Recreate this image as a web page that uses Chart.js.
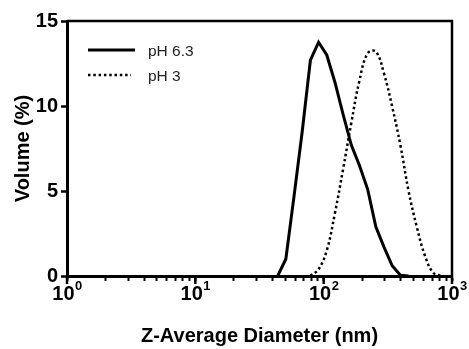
<!DOCTYPE html>
<html><head><meta charset="utf-8">
<script src="https://cdn.jsdelivr.net/npm/chart.js@4.4.1/dist/chart.umd.min.js"></script>
<style>html,body{margin:0;padding:0;background:#fff;}</style>
</head><body>
<canvas id="c" width="469" height="349"></canvas>
<script>
// Size bins (nm)
const diameters = [43.82, 50.75, 58.77, 68.06, 78.82, 91.28, 105.7, 122.4, 141.8, 164.2, 190.1, 220.2, 255.0, 295.3, 342.0, 396.1, 458.7, 531.2, 615.1, 712.4, 825.0];
// Volume (%) per bin
const volumePH63 = [0, 1.0, 4.7, 8.5, 12.7, 13.75, 13.0, 11.4, 9.5, 7.7, 6.5, 5.1, 2.9, 1.7, 0.6, 0.05, 0, null, null, null, null];
const volumePH3 = [null, null, null, null, 0, 0.4, 1.5, 3.7, 6.3, 9.0, 11.5, 13.1, 13.2, 11.9, 9.96, 7.7, 5.0, 2.9, 1.2, 0.2, 0];
const seriesLabels = ['pH 6.3', 'pH 3'];
const xMajorTicks = [1, 10, 100, 1000];
const xTickBase = '10';
const xTickExponents = ['0', '1', '2', '3'];
const yTicks = [0, 5, 10, 15];
const xTitle = 'Z-Average Diameter (nm)';
const yTitle = 'Volume (%)';

const FONT = "'Liberation Sans', Arial, sans-serif";

function toPoints(vals) {
  return diameters.map((d, i) => ({x: d, y: vals[i]}));
}

const decorPlugin = {
  id: 'decor',
  afterDraw(chart) {
    const ctx = chart.ctx;
    const a = chart.chartArea;
    const xs = chart.scales.x;
    ctx.save();
    // top and right frame
    ctx.strokeStyle = '#000';
    ctx.lineWidth = 2.5;
    ctx.beginPath();
    ctx.moveTo(a.left, a.top);
    ctx.lineTo(a.right, a.top);
    ctx.lineTo(a.right, a.bottom);
    ctx.stroke();
    // longer major ticks + superscript labels
    ctx.lineWidth = 2.5;
    xMajorTicks.forEach((v, i) => {
      const x = xs.getPixelForValue(v);
      ctx.beginPath();
      ctx.moveTo(x, a.bottom);
      ctx.lineTo(x, a.bottom + 8);
      ctx.stroke();
      ctx.fillStyle = '#000';
      ctx.textBaseline = 'alphabetic';
      ctx.textAlign = 'left';
      ctx.font = 'bold 20px ' + FONT;
      const w1 = ctx.measureText(xTickBase).width;
      ctx.font = 'bold 13px ' + FONT;
      const w2 = ctx.measureText(xTickExponents[i]).width;
      const start = x - (w1 + w2) / 2;
      ctx.font = 'bold 20px ' + FONT;
      ctx.fillText(xTickBase, start, a.bottom + 24);
      ctx.font = 'bold 13px ' + FONT;
      ctx.fillText(xTickExponents[i], start + w1 + 0.5, a.bottom + 14);
    });
    // legend
    chart.data.datasets.forEach((ds, i) => {
      const y = a.top + 29 + i * 25;
      ctx.strokeStyle = ds.borderColor;
      ctx.lineWidth = ds.borderWidth;
      ctx.setLineDash(ds.borderDash || []);
      ctx.beginPath();
      ctx.moveTo(a.left + 21, y);
      ctx.lineTo(a.left + (i === 0 ? 68 : 64), y);
      ctx.stroke();
      ctx.setLineDash([]);
      ctx.fillStyle = '#222';
      ctx.font = '15.5px ' + FONT;
      ctx.textAlign = 'left';
      ctx.textBaseline = 'alphabetic';
      ctx.fillText(ds.label, a.left + 81, y + 6);
    });
    ctx.restore();
  }
};

new Chart(document.getElementById('c'), {
  type: 'line',
  data: {
    datasets: [
      {label: seriesLabels[0], data: toPoints(volumePH63), borderColor: '#000', borderWidth: 3, pointRadius: 0, tension: 0, fill: false, borderJoinStyle: 'miter'},
      {label: seriesLabels[1], data: toPoints(volumePH3), borderColor: '#000', borderWidth: 2.5, borderDash: [2.5, 2.8], pointRadius: 0, tension: 0.4, fill: false}
    ]
  },
  options: {
    responsive: false,
    animation: false,
    devicePixelRatio: 1,
    layout: {padding: {top: 21, right: 17, left: 0, bottom: 0}},
    plugins: {legend: {display: false}, tooltip: {enabled: false}},
    scales: {
      x: {
        type: 'logarithmic', min: 1, max: 1000, position: 'bottom',
        afterBuildTicks: s => {
          const t = [];
          for (let e = 0; e < 3; e++) for (let m = 1; m < 10; m++) t.push({value: m * Math.pow(10, e), major: m === 1});
          t.push({value: 1000, major: true});
          s.ticks = t;
        },
        ticks: {display: false},
        grid: {drawOnChartArea: false, drawTicks: true, tickLength: 5, tickWidth: 2, tickColor: '#000'},
        border: {display: true, width: 3, color: '#000'},
        title: {display: true, text: xTitle, color: '#000', font: {family: FONT, weight: 'bold', size: 20}, padding: {top: 0, bottom: 1}},
        afterFit: s => { s.height = 73; }
      },
      y: {
        type: 'linear', min: 0, max: 15,
        afterBuildTicks: s => { s.ticks = yTicks.map(v => ({value: v})); },
        ticks: {color: '#000', font: {family: FONT, weight: 'bold', size: 20}, padding: 3},
        grid: {drawOnChartArea: false, drawTicks: true, tickLength: 6, tickWidth: 2.5, tickColor: '#000'},
        border: {display: true, width: 3, color: '#000'},
        title: {display: true, text: yTitle, color: '#000', font: {family: FONT, weight: 'bold', size: 20}, padding: {top: 11, bottom: 0}},
        afterFit: s => { s.width = 67; }
      }
    }
  },
  plugins: [decorPlugin]
});
</script>
</body></html>
